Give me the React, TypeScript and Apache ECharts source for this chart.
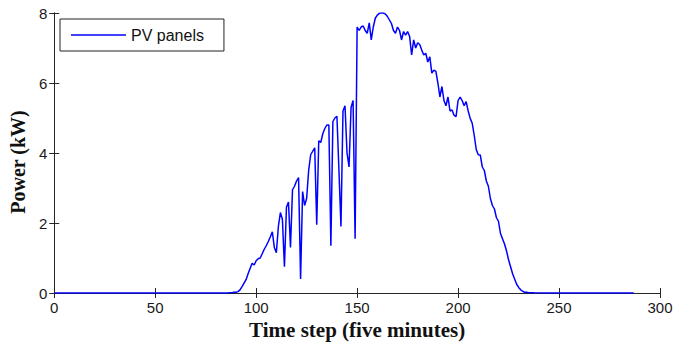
import React, { useEffect, useRef } from "react";
import * as echarts from "echarts";

const xTicks = [0, 50, 100, 150, 200, 250, 300];
const yTicks = [0, 2, 4, 6, 8];
const seriesName = "PV panels";
const xTitle = "Time step (five minutes)";
const yTitle = "Power (kW)";

// PV power (kW) per five-minute time step, t = 0..287
const nightBefore = [
  0, 0, 0, 0, 0, 0, 0, 0, 0, 0, 0, 0, 0, 0, 0, 0, 0, 0, 0, 0, 0, 0, 0, 0, 0, 0, 0, 0, 0, 0,
  0, 0, 0, 0, 0, 0, 0, 0, 0, 0, 0, 0, 0, 0, 0, 0, 0, 0, 0, 0, 0, 0, 0, 0, 0, 0, 0, 0, 0, 0,
  0, 0, 0, 0, 0, 0, 0, 0, 0, 0, 0, 0, 0, 0, 0, 0, 0, 0, 0, 0, 0, 0, 0, 0, 0, 0, 0,
]; // t 0..86
const morning = [
  0.01, 0.01, 0.02, 0.02, 0.04, 0.09, 0.18, 0.28, 0.38, 0.55, // 87..96
  0.7, 0.85, 0.8, 0.92, 0.98, 1.0, 1.12, 1.25, 1.35, 1.47, // 97..106
  1.6, 1.75, 1.3, 1.15, 1.9, 2.3, 2.1, 0.75, 2.45, 2.6, // 107..116
  1.3, 2.95, 3.05, 3.2, 3.3, 0.4, 2.9, 2.5, 2.7, 3.5, // 117..126
  3.95, 4.05, 4.15, 1.95, 4.35, 4.3, 4.55, 4.7, 4.8, 4.8, // 127..136
  1.35, 4.9, 5.0, 5.05, 3.5, 1.9, 5.2, 5.35, 4.0, 3.6, // 137..146
  5.3, 5.5, 1.55, // 147..149
];
const afternoon = [
  7.6, 7.5, 7.6, 7.63, 7.5, 7.42, 7.72, 7.23, 7.6, 7.85, // 150..159
  7.94, 7.99, 8.0, 8.0, 7.97, 7.9, 7.8, 7.7, 7.5, 7.42, // 160..169
  7.6, 7.5, 7.23, 7.47, 7.37, 7.47, 7.33, 6.8, 7.23, 7.0, // 170..179
  7.15, 7.1, 6.94, 6.8, 6.85, 6.6, 6.75, 6.28, 6.37, 6.33, // 180..189
  6.0, 5.6, 5.9, 5.5, 5.35, 5.6, 5.2, 5.23, 5.08, 5.04, // 190..199
  5.5, 5.6, 5.5, 5.35, 5.47, 5.2, 4.99, 4.85, 4.5, 4.1, // 200..209
  3.95, 3.94, 3.6, 3.5, 3.2, 3.05, 2.7, 2.5, 2.4, 2.15, // 210..219
  2.05, 1.7, 1.55, 1.4, 1.2, 0.95, 0.75, 0.55, 0.4, 0.25, // 220..229
  0.16, 0.09, 0.05, 0.02, 0.02, 0.01, 0.01, 0.01, // 230..237
];
const nightAfter = [
  0, 0, 0, 0, 0, 0, 0, 0, 0, 0, 0, 0, 0, 0, 0, 0, 0, 0, 0, 0, 0, 0, 0, 0, 0,
  0, 0, 0, 0, 0, 0, 0, 0, 0, 0, 0, 0, 0, 0, 0, 0, 0, 0, 0, 0, 0, 0, 0, 0, 0,
]; // t 238..287

const powerKW = [...nightBefore, ...morning, ...afternoon, ...nightAfter];

export default function App() {
  const ref = useRef<HTMLDivElement>(null);
  useEffect(() => {
    if (!ref.current) return;
    const chart = echarts.init(ref.current, undefined, { renderer: "svg" });
    const axisColor = "#262626";
    const labelFont = {
      fontFamily: "Liberation Sans, Arial, sans-serif",
      fontSize: 15,
      color: "#1a1a1a",
    };
    const nameFont = {
      fontFamily: "Liberation Serif, Times New Roman, serif",
      fontWeight: "bold" as const,
      color: "#111",
    };
    const xMin = xTicks[0];
    const xMax = xTicks[xTicks.length - 1];
    const xInt = xTicks[1] - xTicks[0];
    const yMin = yTicks[0];
    const yMax = yTicks[yTicks.length - 1];
    const yInt = yTicks[1] - yTicks[0];
    chart.setOption({
      animation: false,
      backgroundColor: "#fff",
      grid: { left: 54, right: 39, top: 13, bottom: 56, containLabel: false },
      legend: {
        data: [{ name: seriesName, icon: "rect" }],
        left: 60,
        top: 19,
        orient: "horizontal",
        itemWidth: 55,
        itemHeight: 1.5,
        itemGap: 6,
        padding: [8, 20, 8, 11],
        borderColor: "#222",
        borderWidth: 1,
        backgroundColor: "#fff",
        textStyle: {
          fontFamily: "Liberation Sans, Arial, sans-serif",
          fontSize: 16,
          color: "#111",
        },
      },
      xAxis: [
        {
          type: "value",
          min: xMin,
          max: xMax,
          interval: xInt,
          position: "bottom",
          name: xTitle,
          nameLocation: "middle",
          nameGap: 25,
          nameTextStyle: { ...nameFont, fontSize: 21 },
          axisLine: { show: true, lineStyle: { color: axisColor, width: 1 } },
          axisTick: { show: true, inside: true, length: 5, lineStyle: { color: axisColor } },
          axisLabel: { ...labelFont, margin: 7 },
          splitLine: { show: false },
        },
        {
          type: "value",
          min: xMin,
          max: xMax,
          interval: xInt,
          position: "top",
          axisLine: { show: true, lineStyle: { color: axisColor, width: 1 } },
          axisTick: { show: true, inside: true, length: 5, lineStyle: { color: axisColor } },
          axisLabel: { show: false },
          splitLine: { show: false },
        },
      ],
      yAxis: [
        {
          type: "value",
          min: yMin,
          max: yMax,
          interval: yInt,
          position: "left",
          name: yTitle,
          nameLocation: "middle",
          nameGap: 21,
          nameRotate: 90,
          nameTextStyle: { ...nameFont, fontSize: 20, padding: [0, 18, 0, 0] },
          axisLine: { show: true, lineStyle: { color: axisColor, width: 1 } },
          axisTick: { show: true, inside: true, length: 5, lineStyle: { color: axisColor } },
          axisLabel: { ...labelFont, margin: 7 },
          splitLine: { show: false },
        },
        {
          type: "value",
          min: yMin,
          max: yMax,
          interval: yInt,
          position: "right",
          axisLine: { show: true, lineStyle: { color: axisColor, width: 1 } },
          axisTick: { show: true, inside: true, length: 5, lineStyle: { color: axisColor } },
          axisLabel: { show: false },
          splitLine: { show: false },
        },
      ],
      series: [
        {
          name: seriesName,
          type: "line",
          xAxisIndex: 0,
          yAxisIndex: 0,
          data: powerKW.map((v, i) => [i, v]),
          symbol: "none",
          showSymbol: false,
          lineStyle: { color: "#0000ff", width: 1.5 },
          itemStyle: { color: "#0000ff" },
          clip: true,
        },
      ],
    });
    return () => chart.dispose();
  }, []);
  return (
    <div
      ref={ref}
      style={{ position: "fixed", left: 0, top: 0, width: 699, height: 349 }}
    />
  );
}
